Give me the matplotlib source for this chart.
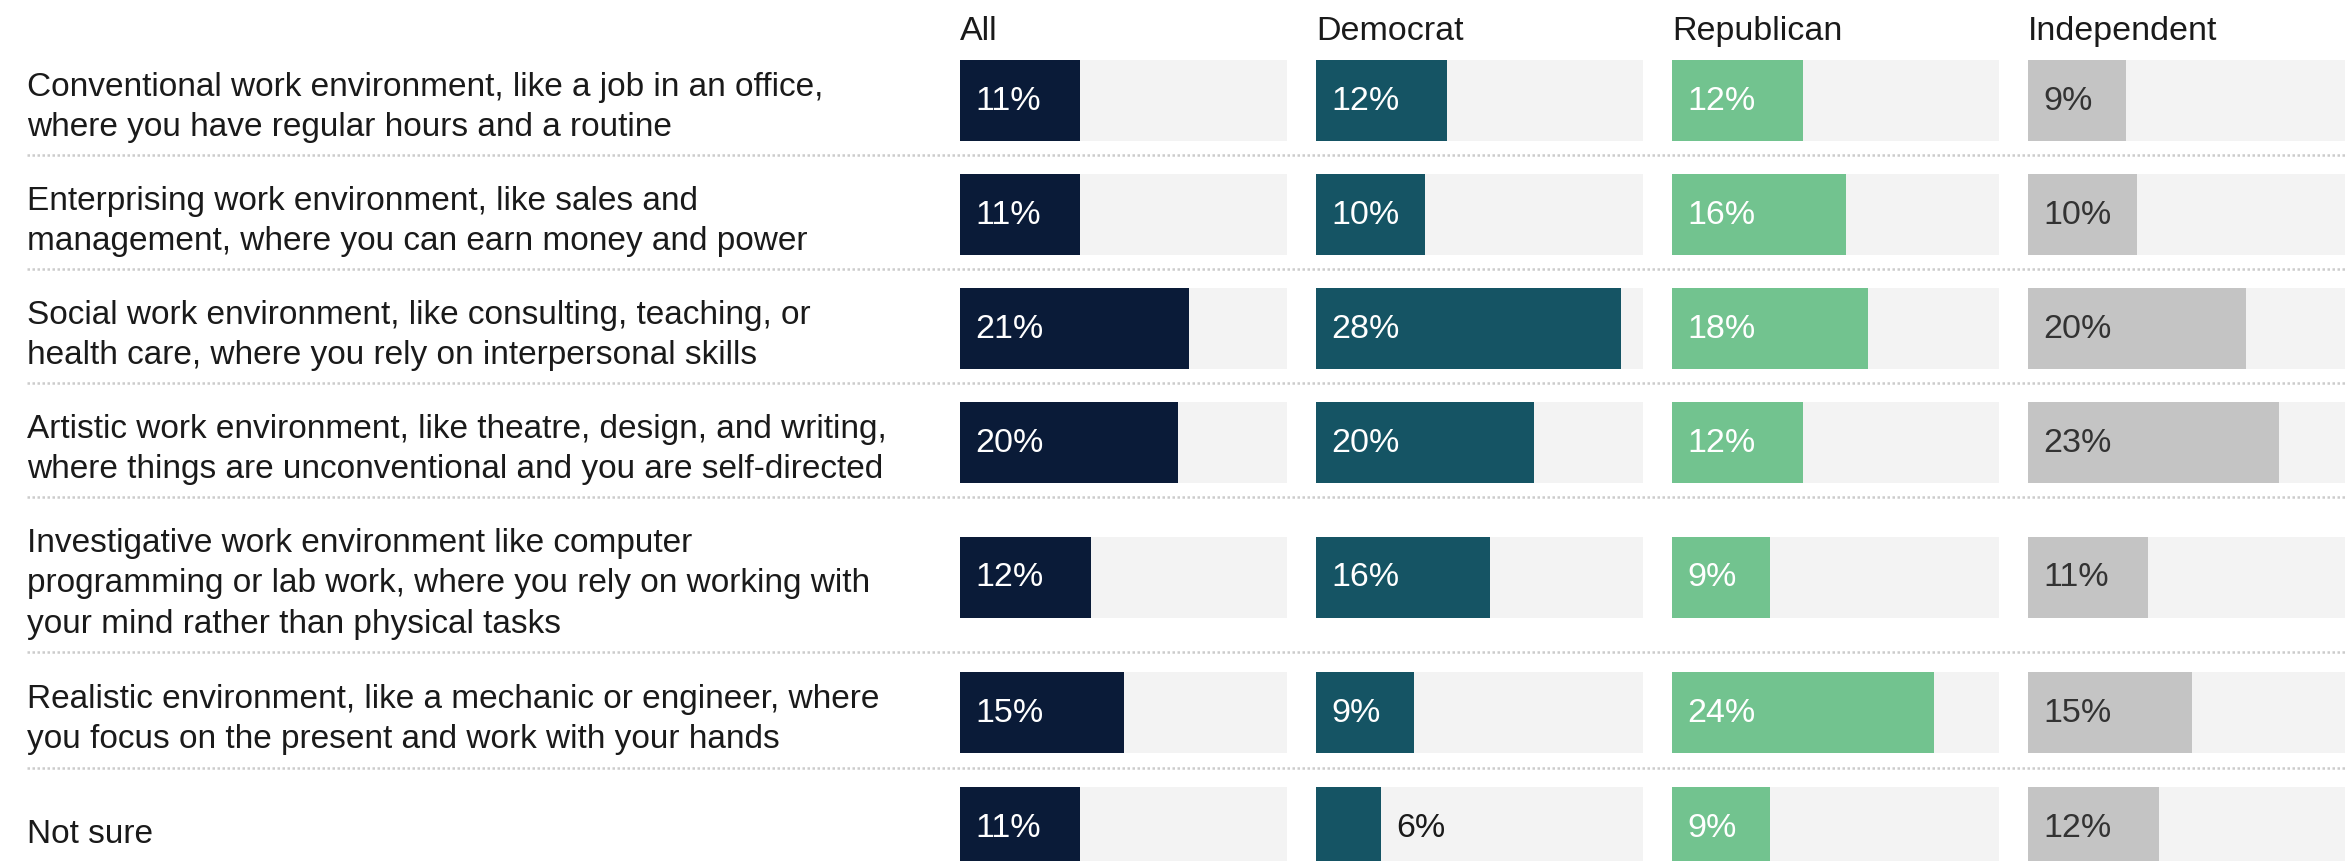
import numpy as np
import matplotlib
matplotlib.use('Agg')
import matplotlib.pyplot as plt

plt.rcParams['font.family'] = ['Liberation Sans Narrow', 'Liberation Sans', 'DejaVu Sans']

# data
labels = [
    "Conventional work environment, like a job in an office,\nwhere you have regular hours and a routine",
    "Enterprising work environment, like sales and\nmanagement, where you can earn money and power",
    "Social work environment, like consulting, teaching, or\nhealth care, where you rely on interpersonal skills",
    "Artistic work environment, like theatre, design, and writing,\nwhere things are unconventional and you are self-directed",
    "Investigative work environment like computer\nprogramming or lab work, where you rely on working with\nyour mind rather than physical tasks",
    "Realistic environment, like a mechanic or engineer, where\nyou focus on the present and work with your hands",
    "Not sure",
]
groups = ['All', 'Democrat', 'Republican', 'Independent']
all_vals = [11, 11, 21, 20, 12, 15, 11]
dem_vals = [12, 10, 28, 20, 16, 9, 6]
rep_vals = [12, 16, 18, 12, 9, 24, 9]
ind_vals = [9, 10, 20, 23, 11, 15, 12]
series = [all_vals, dem_vals, rep_vals, ind_vals]

colors = ['#0a1b38', '#155464', '#72c38f', '#c4c4c4']
txt_colors = ['white', 'white', 'white', '#333333']
max_val = 30

# layout (pixels)
W, H = 2345, 862
row_h = [114, 114, 114, 114, 155, 116, 114]
top0 = 42
bar_h = 81
edges = top0 + np.concatenate([[0], np.cumsum(row_h)])
bar_c = (edges[:-1] + edges[1:]) / 2 + 2.5
col_x = [960, 1316, 1672, 2028]
col_w = 327
fs = 24

fig = plt.figure(figsize=(W / 100, H / 100), dpi=100)

# background axes for row labels and dotted separators
ax0 = fig.add_axes([0, 0, 1, 1])
ax0.set_xlim(0, W)
ax0.set_ylim(H, 0)
ax0.axis('off')
ax0.hlines(edges[1:-1], 27, W, colors='#cccccc', lw=1.8, linestyles=(0, (1, 1)))
for lab, yc in zip(labels, bar_c):
    ax0.text(27, yc + 6, lab, va='center', ha='left', fontsize=fs, color='#1a1a1a',
             linespacing=1.4)

for i, g in enumerate(groups):
    ax = fig.add_axes([col_x[i] / W, 0, col_w / W, 1])
    ax.set_xlim(0, max_val)
    ax.set_ylim(H, 0)
    ax.axis('off')
    ax.barh(bar_c, [max_val] * len(bar_c), height=bar_h, color='#f3f3f3', lw=0)
    ax.barh(bar_c, series[i], height=bar_h, color=colors[i], lw=0)
    ax.text(0, 40, g, va='baseline', ha='left', fontsize=fs + 0.5, color='#1a1a1a')
    for v, yc in zip(series[i], bar_c):
        if v < 7:
            ax.annotate(f'{v}%', (v, yc), xytext=(11, 0), textcoords='offset points',
                        va='center', ha='left', fontsize=fs + 0.5, color='#1a1a1a')
        else:
            ax.annotate(f'{v}%', (0, yc), xytext=(11, 0), textcoords='offset points',
                        va='center', ha='left', fontsize=fs + 0.5, color=txt_colors[i])

fig.savefig('out.png', dpi=100)
